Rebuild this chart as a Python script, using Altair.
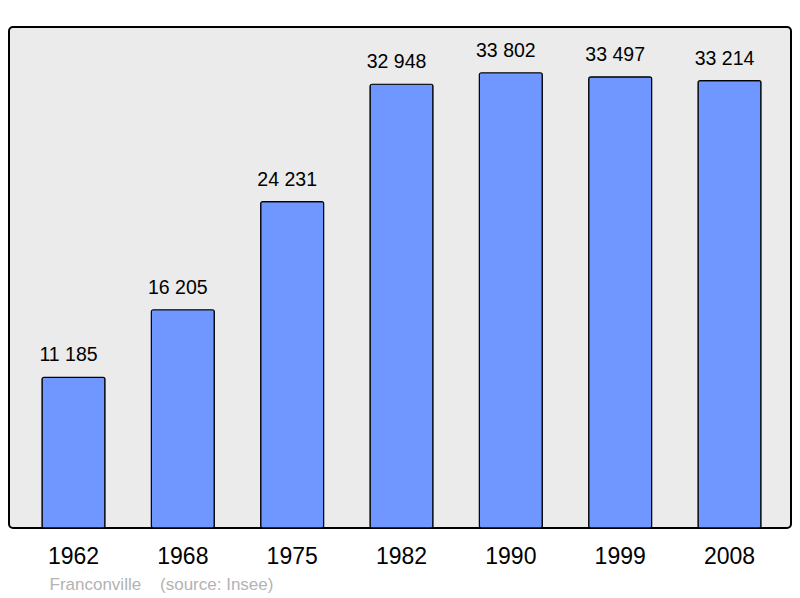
import altair as alt
import pandas as pd

years = ["1962", "1968", "1975", "1982", "1990", "1999", "2008"]
population = [11185, 16205, 24231, 32948, 33802, 33497, 33214]
labels = ["11 185", "16 205", "24 231", "32 948", "33 802", "33 497", "33 214"]
source_text = "Franconville\u00a0\u00a0\u00a0\u00a0(source: Insee)"

df = pd.DataFrame({"year": years, "pop": population, "label": labels})

FONT = "Liberation Sans"

x = alt.X(
    "year:N",
    sort=years,
    scale=alt.Scale(paddingInner=0.4238, paddingOuter=0.288, align=0.524),
    axis=alt.Axis(
        title=source_text,
        titleFont=FONT,
        titleFontSize=17,
        titleFontWeight="normal",
        titleColor="#b3b3b3",
        titleAlign="left",
        titleAnchor="start",
        titleBaseline="alphabetic",
        titleX=40,
        titleY=61,
        labelFont=FONT,
        labelFontSize=23,
        labelColor="black",
        labelPadding=17,
        labelAngle=0,
        ticks=False,
        domain=False,
    ),
)
y = alt.Y(
    "pop:Q",
    scale=alt.Scale(domain=[0, 37200], nice=False, zero=True),
    axis=None,
)

bars = alt.Chart(df).mark_bar(
    fill="#7097ff", stroke="black", strokeWidth=1.2, cornerRadius=2
).encode(x=x, y=y)

text = alt.Chart(df).mark_text(
    baseline="alphabetic", dy=-16, dx=-5, font=FONT, fontSize=19.5, color="black"
).encode(x=x, y=y, text="label:N")

chart = (
    alt.layer(bars, text)
    .properties(
        width=782,
        height=501,
        padding={"left": 1, "top": 19, "right": 1, "bottom": 68},
        autosize=alt.AutoSizeParams(type="none"),
    )
    .configure_view(
        fill="#ebebeb", stroke="black", strokeWidth=2, cornerRadius=4
    )
)

chart.save("out.html", embed_options={"renderer": "svg", "actions": False})
